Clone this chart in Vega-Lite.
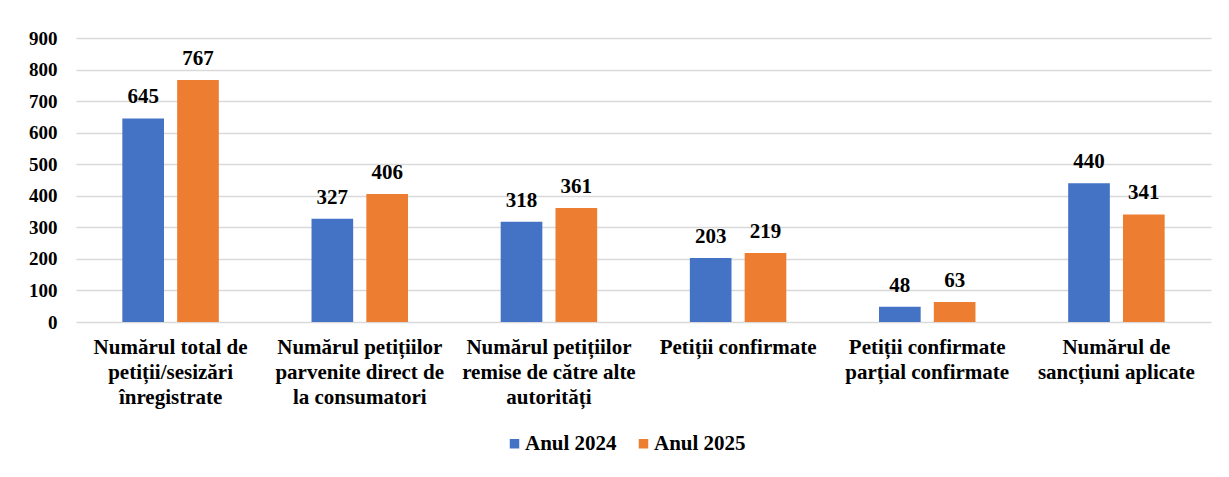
{
  "$schema": "https://vega.github.io/schema/vega-lite/v6.json",
  "width": 1135,
  "height": 284,
  "autosize": {"type": "none"},
  "padding": {"left": 76, "top": 38, "right": 18, "bottom": 155},
  "background": "white",
  "config": {
    "font": "Liberation Serif",
    "view": {"stroke": null}
  },
  "data": {
    "values": [
      {"cat": "Numărul total de petiții/sesizări înregistrate", "series": "Anul 2024", "value": 645},
      {"cat": "Numărul total de petiții/sesizări înregistrate", "series": "Anul 2025", "value": 767},
      {"cat": "Numărul petițiilor parvenite direct de la consumatori", "series": "Anul 2024", "value": 327},
      {"cat": "Numărul petițiilor parvenite direct de la consumatori", "series": "Anul 2025", "value": 406},
      {"cat": "Numărul petițiilor remise de către alte autorități", "series": "Anul 2024", "value": 318},
      {"cat": "Numărul petițiilor remise de către alte autorități", "series": "Anul 2025", "value": 361},
      {"cat": "Petiții confirmate", "series": "Anul 2024", "value": 203},
      {"cat": "Petiții confirmate", "series": "Anul 2025", "value": 219},
      {"cat": "Petiții confirmate parțial confirmate", "series": "Anul 2024", "value": 48},
      {"cat": "Petiții confirmate parțial confirmate", "series": "Anul 2025", "value": 63},
      {"cat": "Numărul de sancțiuni aplicate", "series": "Anul 2024", "value": 440},
      {"cat": "Numărul de sancțiuni aplicate", "series": "Anul 2025", "value": 341}
    ]
  },
  "encoding": {
    "x": {
      "field": "cat", "type": "nominal", "sort": null,
      "scale": {"paddingInner": 0.49, "paddingOuter": 0.245},
      "axis": {
        "title": null, "labelAngle": 0, "domain": false, "ticks": false, "labelPadding": 14,
        "labelFont": "Liberation Serif", "labelFontWeight": "bold", "labelFontSize": 21, "labelColor": "black",
        "labelLineHeight": 25, "labelLimit": 0, "labelBaseline": "top", "grid": false,
        "labelExpr": "{'Numărul total de petiții/sesizări înregistrate': ['Numărul total de', 'petiții/sesizări', 'înregistrate'], 'Numărul petițiilor parvenite direct de la consumatori': ['Numărul petițiilor', 'parvenite direct de', 'la consumatori'], 'Numărul petițiilor remise de către alte autorități': ['Numărul petițiilor', 'remise de către alte', 'autorități'], 'Petiții confirmate': ['Petiții confirmate'], 'Petiții confirmate parțial confirmate': ['Petiții confirmate', 'parțial confirmate'], 'Numărul de sancțiuni aplicate': ['Numărul de', 'sancțiuni aplicate']}[datum.label]"
      }
    },
    "xOffset": {"field": "series", "type": "nominal", "scale": {"paddingInner": 0.24}},
    "y": {
      "field": "value", "type": "quantitative",
      "scale": {"domain": [0, 900], "nice": false},
      "axis": {"title": null, "values": [0,100,200,300,400,500,600,700,800,900], "domain": false, "ticks": false, "labelPadding": 19,
        "labelFont": "Liberation Serif", "labelFontWeight": "bold", "labelFontSize": 19, "labelColor": "black",
        "gridColor": "#d9d9d9", "gridWidth": 1.5}
    },
    "color": {
      "field": "series", "type": "nominal",
      "scale": {"domain": ["Anul 2024", "Anul 2025"], "range": ["#4472C4", "#ED7D31"]},
      "legend": {"title": null, "orient": "none", "legendX": 428, "legendY": 395, "direction": "horizontal", "symbolType": "square", "symbolSize": 90, "symbolStrokeWidth": 0, "symbolOpacity": 1, "columnPadding": 16, "labelOffset": 0,
        "labelFont": "Liberation Serif", "labelFontWeight": "bold", "labelFontSize": 21, "labelColor": "black"}
    }
  },
  "layer": [
    {"mark": {"type": "bar"}},
    {
      "mark": {"type": "text", "baseline": "alphabetic", "dy": -15, "font": "Liberation Serif", "fontWeight": "bold", "fontSize": 21, "color": "black"},
      "encoding": {"text": {"field": "value", "type": "quantitative"}, "color": {"value": "black"}}
    }
  ]
}
